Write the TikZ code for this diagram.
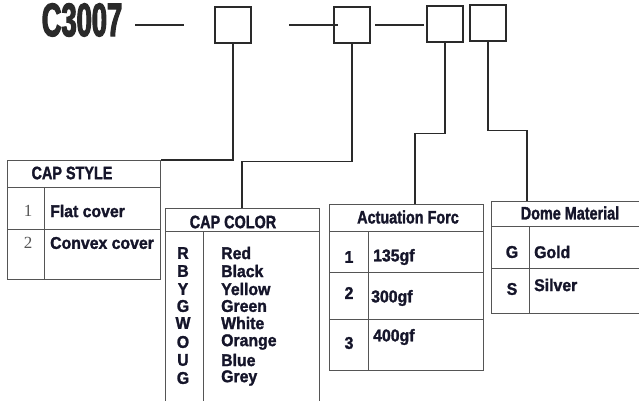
\documentclass[tikz,border=0pt]{standalone}
\usepackage{fontspec}
\setmainfont{Liberation Sans}
\newfontfamily\hdfont{Liberation Sans Bold}[FakeStretch=0.8,FakeBold=1.6]
\newfontfamily\bodyfont{Liberation Sans Bold}[FakeStretch=0.93,FakeBold=1.6]
\newfontfamily\titlef{Liberation Sans Bold}[FakeStretch=0.58,FakeBold=2.5]
\newfontfamily\numserif{Liberation Serif}
\definecolor{ink}{HTML}{15152A}
\definecolor{bline}{HTML}{2A2A2A}
\definecolor{tline}{HTML}{555555}
\definecolor{gnum}{HTML}{555555}
\begin{document}
\begin{tikzpicture}[x=1pt,y=-1pt,
  box/.style={draw=bline,line width=1.1pt,minimum width=36pt,minimum height=36pt,inner sep=0pt},
  conn/.style={draw=bline,line width=1.1pt},
  tbl/.style={draw=tline,line width=0.9pt},
  hd/.style={font=\hdfont\fontsize{18}{18}\selectfont,text=ink,inner sep=0pt},
  txt/.style={font=\bodyfont\fontsize{17}{17}\selectfont,text=ink,inner sep=0pt},
  lft/.style={txt,anchor=west},
  clr/.style={font=\bodyfont\fontsize{17}{17}\selectfont,text=ink,inner sep=0pt},
  snum/.style={font=\numserif\fontsize{17}{17}\selectfont,text=gnum,inner sep=0pt}]
\useasboundingbox (0,0) rectangle (639,401);
\begin{scope}
\clip (0,0) rectangle (639,401);
% title and boxes
\node[font=\titlef\fontsize{47}{47}\selectfont,text=bline,inner sep=0pt] (title) at (82,20) {C3007};
\node[box] (b1) at (233,25) {};
\node[box] (b2) at (352,25) {};
\node[box] (b3) at (445,24) {};
\node[box] (b4) at (488,23) {};
\coordinate (d1a) at (135,25); \coordinate (d1b) at (184,25);
\coordinate (d2a) at (289,25); \coordinate (d2b) at (338,25);
\coordinate (d3a) at (375,25); \coordinate (d3b) at (424,25);
\draw[conn] (d1a) -- (d1b);
\draw[conn] (d2a) -- (d2b);
\draw[conn] (d3a) -- (d3b);
% CAP STYLE table
\node[tbl,anchor=north west,minimum width=153pt,minimum height=119pt,inner sep=0pt] (capstyle) at (7,160) {};
\draw[tbl] (7,187) -- (160,187);
\draw[tbl] (7,229) -- (160,229);
\draw[tbl] (44,187) -- (44,279);
\node[hd] (csh) at (72,173) {CAP STYLE};
\node[snum] (cs1) at (28,211) {1};
\node[lft] (cs1t) at (50,211) {Flat cover};
\node[snum] (cs2) at (28,243) {2};
\node[lft] (cs2t) at (50,243) {Convex cover};
% CAP COLOR table
\coordinate (capcolor) at (242,208);
\draw[tbl] (165,410) -- (165,208) -- (319,208) -- (319,410);
\draw[tbl] (165,231) -- (319,231);
\draw[tbl] (203,231) -- (203,410);
\node[hd] (cch) at (233,222) {CAP COLOR};
\foreach \l/\n/\y [count=\i] in {R/Red/253,B/Black/271,Y/Yellow/289,G/Green/306,W/White/323,O/Orange/342,U/Blue/360,G/Grey/378}{
  \node[clr] (cl\i) at (183,\y) {\l};
  \node[clr,anchor=west] (cn\i) at (221,\y) {\n};
}
% Actuation table
\node[tbl,anchor=north west,minimum width=154pt,minimum height=166pt,inner sep=0pt] (act) at (329,204) {};
\coordinate (actin) at (415,204);
\draw[tbl] (329,231) -- (483,231);
\draw[tbl] (329,272) -- (483,272);
\draw[tbl] (329,319) -- (483,319);
\draw[tbl] (368,231) -- (368,370);
\node[hd] (ach) at (408,217) {Actuation Forc};
\node[txt] (a1) at (349,257) {1};
\node[lft] (a1t) at (373,257) {135gf};
\node[txt] (a2) at (349,293) {2};
\node[lft] (a2t) at (371,298) {300gf};
\node[txt] (a3) at (349,343) {3};
\node[lft] (a3t) at (373,337) {400gf};
% Dome table
\coordinate (dome) at (527,201);
\draw[tbl] (650,201) -- (491,201) -- (491,313) -- (650,313);
\draw[tbl] (491,226) -- (650,226);
\draw[tbl] (491,268) -- (650,268);
\draw[tbl] (529,226) -- (529,313);
\node[hd] (dmh) at (570,213) {Dome Material};
\node[txt] (dg) at (512,252) {G};
\node[lft] (dgt) at (534,252) {Gold};
\node[txt] (ds) at (512,289) {S};
\node[lft] (dst) at (534,285) {Silver};
% connectors
\draw[conn] (b1.south) |- (capstyle.north east);
\draw[conn] (b2.south) -- ++(0,118) -| (capcolor);
\draw[conn] (b3.south) -- ++(0,91) -| (actin);
\draw[conn] (b4.south) -- ++(0,89) -| (dome);
\end{scope}
\end{tikzpicture}
\end{document}
